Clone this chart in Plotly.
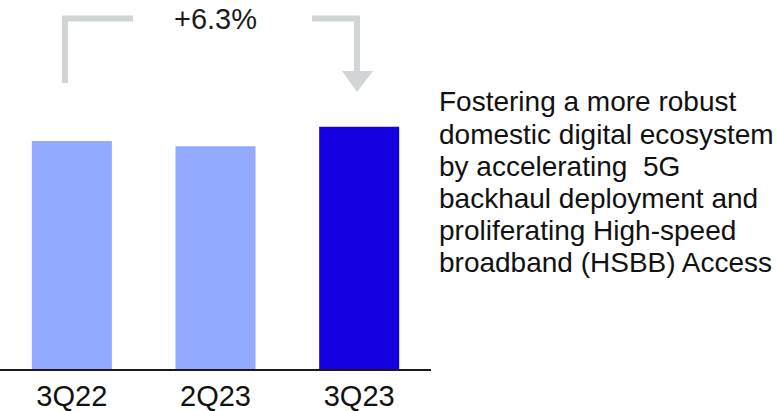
import plotly.graph_objects as go

categories = ["3Q22", "2Q23", "3Q23"]
values = [608, 594, 646]
bar_colors = ["#92aaff", "#92aaff", "#1400e0"]
growth_label = "+6.3%"
note_lines = [
    "Fostering a more robust",
    "domestic digital ecosystem",
    "by accelerating  5G",
    "backhaul deployment and",
    "proliferating High-speed",
    "broadband (HSBB) Access",
]

W, H = 777, 411
PLOT_W, PLOT_BOTTOM = 431, 369
Y_MAX = 984
FONT = "Arial, Liberation Sans, sans-serif"
GRAY = "#d1d5d6"

def py(px):
    """pixel row -> y data value"""
    return (PLOT_BOTTOM - px) / PLOT_BOTTOM * Y_MAX

def px_x(px):
    """pixel column -> x data value"""
    return px / PLOT_W * 3 - 0.5

idx = list(range(len(categories)))
fig = go.Figure(go.Bar(x=idx, y=values, marker=dict(color=bar_colors, line=dict(width=0)),
                       width=0.557, hoverinfo="skip"))

# bracket
y_top = py(18.5)
left_x = idx[0] + px_x(65) - px_x(71.8)
right_x = idx[-1] + px_x(357) - px_x(359.2)
fig.add_shape(type="path", xref="x", yref="y",
              path=f"M {left_x},{py(83)} L {left_x},{y_top} L {px_x(133)},{y_top}",
              line=dict(color=GRAY, width=6))
fig.add_shape(type="path", xref="x", yref="y",
              path=f"M {px_x(312)},{y_top} L {right_x},{y_top} L {right_x},{py(72)}",
              line=dict(color=GRAY, width=6))
fig.add_shape(type="path", xref="x", yref="y",
              path=f"M {px_x(342)},{py(71)} L {px_x(373)},{py(71)} L {right_x},{py(92)} Z",
              fillcolor=GRAY, line=dict(width=0))

fig.add_annotation(x=idx[1], y=py(18.5), xref="x", yref="y", text=growth_label,
                   showarrow=False, xanchor="center", yanchor="middle",
                   font=dict(family=FONT, size=29, color="#1a1a1a"))

for i, line in enumerate(note_lines):
    cy = 102 + i * 32.0
    fig.add_annotation(x=437 / PLOT_W, y=(PLOT_BOTTOM - cy) / PLOT_BOTTOM, xref="paper", yref="paper",
                       text=line, showarrow=False, xanchor="left", yanchor="middle",
                       font=dict(family=FONT, size=28, color="#111111"))

fig.update_layout(
    width=W, height=H,
    margin=dict(l=0, r=W - PLOT_W, t=0, b=H - PLOT_BOTTOM),
    plot_bgcolor="white", paper_bgcolor="white",
    showlegend=False,
    xaxis=dict(range=[-0.5, 2.5], tickvals=idx, ticktext=categories, showgrid=False,
               zeroline=False, showline=True, linecolor="#1a1a1a", linewidth=2,
               ticks="", tickfont=dict(family=FONT, size=29, color="#111111"), fixedrange=True),
    yaxis=dict(range=[0, Y_MAX], visible=False, showgrid=False, zeroline=False, fixedrange=True),
)

fig.write_html("out.html", config={"displayModeBar": False})
